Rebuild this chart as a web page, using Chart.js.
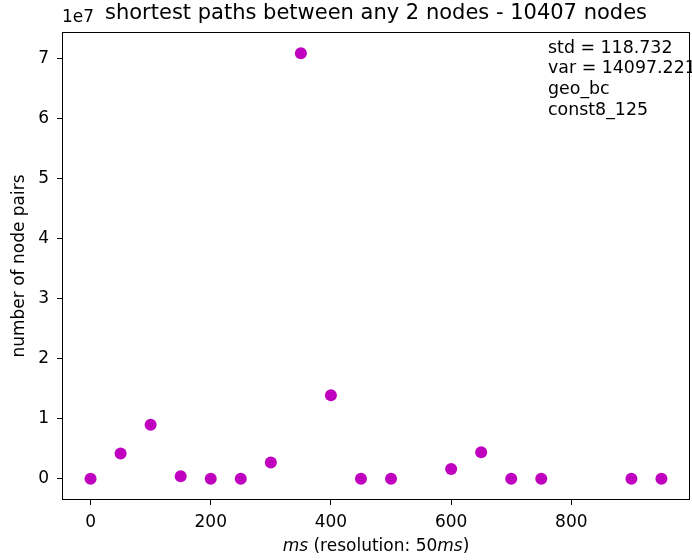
<!DOCTYPE html>
<html>
<head>
<meta charset="utf-8">
<script src="https://cdn.jsdelivr.net/npm/chart.js@4/dist/chart.umd.min.js"></script>
<style>
  html, body { margin: 0; padding: 0; background: #fff; }
  canvas { display: block; }
</style>
</head>
<body>
<canvas id="spChart" width="692" height="560"></canvas>
<script>
// path length buckets (ms) and how many node pairs fall in each
var delays = [0, 50, 100, 150, 200, 250, 300, 350, 400, 450, 500, 600, 650, 700, 750, 900, 950];
var pairCounts = [0, 4200000, 9000000, 400000, 0, 0, 2700000, 70800000, 13900000, 0, 0, 1600000, 4400000, 0, 0, 0, 0];

var xTicks = [0, 200, 400, 600, 800];
var yTicks = [0, 1e7, 2e7, 3e7, 4e7, 5e7, 6e7, 7e7];

var titleText = 'shortest paths between any 2 nodes - 10407 nodes';
var infoLines = ['std = 118.732', 'var = 14097.221', 'geo_bc', 'const8_125'];

var FONT = '"DejaVu Sans", sans-serif';
var MAGENTA = '#bf00bf';

var pts = delays.map(function (d, i) { return { x: d, y: pairCounts[i] }; });

// frame, title, offset text, stats box and axis labels
var decorations = {
    id: 'decorations',
    afterDraw: function (chart) {
        var ctx = chart.ctx;
        var a = chart.chartArea;
        ctx.save();
        ctx.strokeStyle = '#000';
        ctx.lineWidth = 1;
        ctx.strokeRect(a.left + 0.5, a.top + 0.5, a.right - a.left - 1, a.bottom - a.top - 1);

        ctx.fillStyle = '#000';
        ctx.textBaseline = 'middle';
        ctx.textAlign = 'center';
        ctx.font = '21px ' + FONT;
        ctx.fillText(titleText, (a.left + a.right) / 2, 14);

        ctx.textAlign = 'left';
        ctx.font = '17px ' + FONT;
        ctx.fillText('1e7', a.left, 18);

        ctx.font = '17.4px ' + FONT;
        infoLines.forEach(function (t, i) {
            ctx.fillText(t, 548, 48 + i * 20.7);
        });

        // x label: "ms" in italics
        var parts = [['ms', true], [' (resolution: 50', false], ['ms', true], [')', false]];
        var w = 0;
        parts.forEach(function (p) {
            ctx.font = (p[1] ? 'italic ' : '') + '17px ' + FONT;
            w += ctx.measureText(p[0]).width;
        });
        var x = (a.left + a.right) / 2 - w / 2;
        parts.forEach(function (p) {
            ctx.font = (p[1] ? 'italic ' : '') + '17px ' + FONT;
            ctx.fillText(p[0], x, 547);
            x += ctx.measureText(p[0]).width;
        });

        ctx.translate(20, (a.top + a.bottom) / 2);
        ctx.rotate(-Math.PI / 2);
        ctx.textAlign = 'center';
        ctx.font = '17px ' + FONT;
        ctx.fillText('number of node pairs', 0, 0);
        ctx.restore();
    }
};

new Chart(document.getElementById('spChart').getContext('2d'), {
    type: 'scatter',
    data: {
        datasets: [{
            data: pts,
            backgroundColor: MAGENTA,
            borderWidth: 0,
            pointRadius: 6,
            pointHoverRadius: 6
        }]
    },
    options: {
        responsive: false,
        animation: false,
        devicePixelRatio: 1,
        layout: { autoPadding: false, padding: { left: 0, top: 32, right: 2, bottom: 0 } },
        plugins: { legend: { display: false }, tooltip: { enabled: false } },
        scales: {
            x: {
                type: 'linear',
                min: -47.5,
                max: 997.5,
                afterBuildTicks: function (s) { s.ticks = xTicks.map(function (v) { return { value: v }; }); },
                afterFit: function (s) { s.height = 60; s.paddingLeft = 0; s.paddingRight = 0; },
                grid: { drawOnChartArea: false, drawTicks: true, tickLength: 5, color: '#000' },
                border: { display: false },
                ticks: { color: '#000', font: { family: FONT, size: 17 }, padding: 7, maxRotation: 0 }
            },
            y: {
                type: 'linear',
                min: -3540000,
                max: 74340000,
                afterBuildTicks: function (s) { s.ticks = yTicks.map(function (v) { return { value: v }; }); },
                afterFit: function (s) { s.width = 62; s.paddingTop = 0; s.paddingBottom = 0; },
                grid: { drawOnChartArea: false, drawTicks: true, tickLength: 5, color: '#000' },
                border: { display: false },
                ticks: {
                    color: '#000', font: { family: FONT, size: 17 }, padding: 8,
                    callback: function (v) { return String(Math.round(v / 1e7)); }
                }
            }
        }
    },
    plugins: [decorations]
});
</script>
</body>
</html>
